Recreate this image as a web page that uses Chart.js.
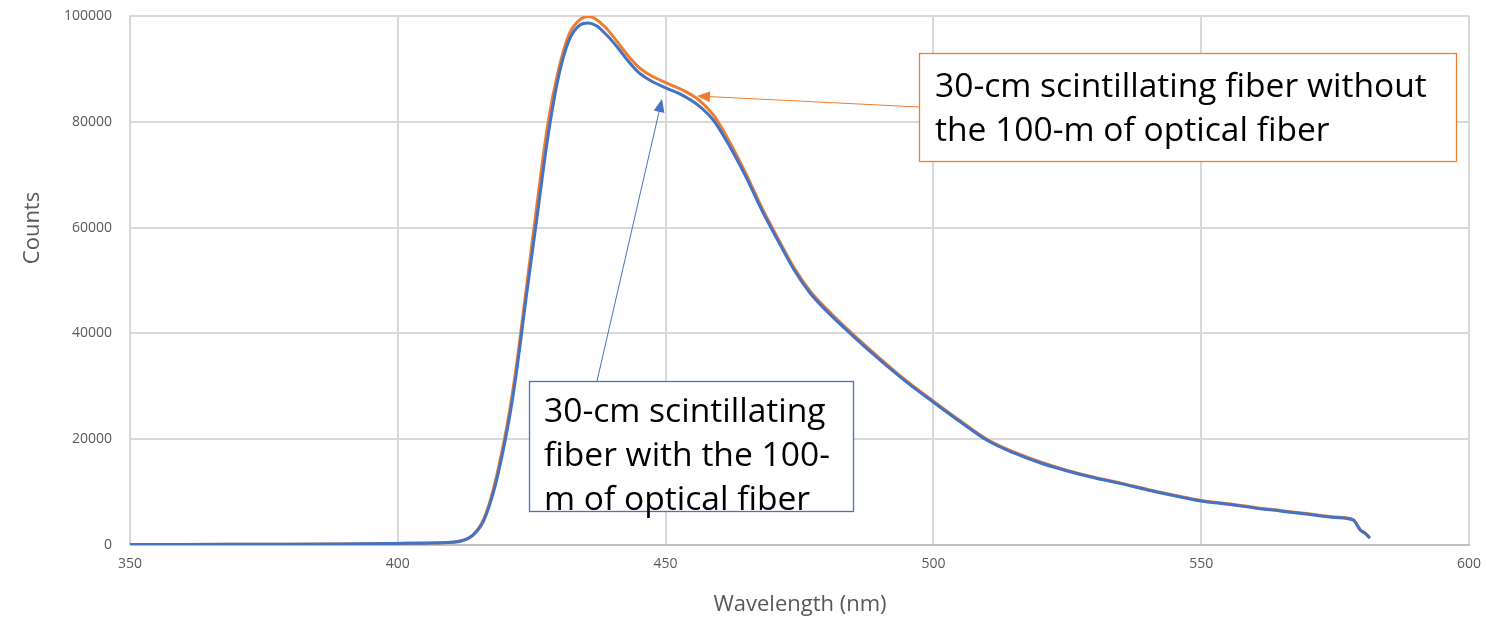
<!DOCTYPE html>
<html>
<head>
<meta charset="utf-8">
<script src="https://cdn.jsdelivr.net/npm/chart.js@4"></script>
<style>
  html, body { margin: 0; padding: 0; background: #fff; }
  #wrap { width: 1486px; height: 621px; }
</style>
</head>
<body>
<div id="wrap"><canvas id="spectrum"></canvas></div>
<script>
// wavelength grid (nm)
const wavelength = [350, 360, 370, 380, 390, 400, 405, 410, 412, 414, 416, 418, 420, 421, 422, 424, 426, 428, 430, 432, 434, 435.5, 437, 439, 441, 443, 445, 447, 450, 453, 456, 459, 462, 465, 468, 471, 474, 477, 480, 485, 490, 495, 500, 505, 510, 515, 520, 525, 530, 535, 540, 545, 550, 555, 560, 565, 570, 575, 578.4, 579.7, 580.6, 581.5];

// 30-cm scintillating fiber without the 100-m optical fiber
const countsWithout = [100, 110, 130, 160, 210, 300, 360, 520, 850, 1900, 4800, 11200, 20500, 26200, 32800, 48500, 64500, 79500, 89800, 96600, 99300, 99900, 99400, 97600, 95100, 92500, 90300, 88900, 87400, 86100, 84300, 81200, 76100, 70200, 63700, 57900, 52400, 48000, 44700, 39800, 35300, 31000, 27200, 23500, 20000, 17600, 15700, 14100, 12800, 11700, 10500, 9400, 8400, 7800, 7100, 6500, 5900, 5300, 4800, 2900, 2300, 1400];

// 30-cm scintillating fiber with the 100-m optical fiber
const countsWith = [100, 110, 130, 160, 210, 300, 350, 500, 800, 1800, 4500, 10500, 19500, 25000, 31500, 47000, 62000, 77000, 88500, 95500, 98300, 98700, 98200, 96400, 94100, 91500, 89300, 87900, 86400, 85100, 83200, 80200, 75300, 69600, 63200, 57500, 52000, 47600, 44300, 39500, 35000, 30800, 27000, 23300, 19800, 17400, 15500, 14000, 12700, 11600, 10400, 9300, 8300, 7700, 7000, 6400, 5800, 5200, 4700, 2800, 2200, 1300];

const xTicks = [350, 400, 450, 500, 550, 600];
const yTicks = [0, 20000, 40000, 60000, 80000, 100000];

const orange = '#ED7D31';
const blue = '#4472C4';
const labelGrey = '#595959';
const textFont = '"Open Sans", "Liberation Sans", sans-serif';

function pts(ys) {
  return wavelength.map((x, i) => ({ x: x, y: ys[i] }));
}

// fit a font size so a line of text spans a given width
function fitFont(ctx, text, width) {
  ctx.font = '30px ' + textFont;
  const w = ctx.measureText(text).width;
  return 30 * width / w;
}

function arrow(ctx, x1, y1, x2, y2, color) {
  const ang = Math.atan2(y2 - y1, x2 - x1);
  const len = 13, half = 5.5;
  ctx.strokeStyle = color;
  ctx.fillStyle = color;
  ctx.lineWidth = 1;
  ctx.beginPath();
  ctx.moveTo(x1, y1);
  ctx.lineTo(x2 - Math.cos(ang) * len * 0.8, y2 - Math.sin(ang) * len * 0.8);
  ctx.stroke();
  ctx.beginPath();
  ctx.moveTo(x2, y2);
  ctx.lineTo(x2 - Math.cos(ang) * len + Math.sin(ang) * half, y2 - Math.sin(ang) * len - Math.cos(ang) * half);
  ctx.lineTo(x2 - Math.cos(ang) * len - Math.sin(ang) * half, y2 - Math.sin(ang) * len + Math.cos(ang) * half);
  ctx.closePath();
  ctx.fill();
}

function textBox(ctx, box, lines, color, fitWidth) {
  ctx.save();
  ctx.fillStyle = '#fff';
  ctx.fillRect(box.x, box.y, box.w, box.h);
  ctx.strokeStyle = color;
  ctx.lineWidth = 1.3;
  ctx.strokeRect(box.x + 0.5, box.y + 0.5, box.w, box.h);
  const size = fitFont(ctx, lines[0], fitWidth);
  ctx.font = size.toFixed(1) + 'px ' + textFont;
  ctx.fillStyle = '#000';
  ctx.textBaseline = 'alphabetic';
  ctx.textAlign = 'left';
  lines.forEach((t, i) => ctx.fillText(t, box.tx, box.ty + i * box.lh));
  ctx.restore();
}

const notes = {
  id: 'notes',
  afterDraw(chart) {
    const ctx = chart.ctx;
    ctx.save();
    // axis titles
    ctx.fillStyle = labelGrey;
    ctx.font = '22px ' + textFont;
    ctx.textAlign = 'center';
    ctx.textBaseline = 'middle';
    ctx.fillText('Wavelength (nm)', 800, 605);
    ctx.translate(33, 228);
    ctx.rotate(-Math.PI / 2);
    ctx.fillText('Counts', 0, 0);
    ctx.restore();

    ctx.save();
    arrow(ctx, 919, 107, 697, 96, orange);
    arrow(ctx, 597, 381, 662, 99, blue);
    ctx.restore();

    textBox(ctx, { x: 919, y: 53, w: 537, h: 108, tx: 935, ty: 97, lh: 44 },
      ['30-cm scintillating fiber without', 'the 100-m of optical fiber'], orange, 492);
    textBox(ctx, { x: 529, y: 381, w: 324, h: 130, tx: 544, ty: 422, lh: 44 },
      ['30-cm scintillating', 'fiber with the 100-', 'm of optical fiber'], blue, 282);
  }
};

new Chart(document.getElementById('spectrum'), {
  type: 'line',
  data: {
    datasets: [
      {
        label: 'with 100-m optical fiber',
        data: pts(countsWith),
        borderColor: blue,
        borderWidth: 3,
        pointRadius: 0,
        cubicInterpolationMode: 'monotone',
        fill: false
      },
      {
        label: 'without 100-m optical fiber',
        data: pts(countsWithout),
        borderColor: orange,
        borderWidth: 3,
        pointRadius: 0,
        cubicInterpolationMode: 'monotone',
        fill: false
      }
    ]
  },
  options: {
    responsive: true,
    maintainAspectRatio: false,
    animation: false,
    layout: { padding: { top: 16, right: 17, left: 0, bottom: 0 } },
    plugins: { legend: { display: false }, tooltip: { enabled: false } },
    scales: {
      x: {
        type: 'linear',
        min: 350,
        max: 600,
        afterBuildTicks: s => { s.ticks = xTicks.map(v => ({ value: v })); },
        afterFit: s => { s.height = 76; s.paddingLeft = 0; s.paddingRight = 0; },
        grid: { color: '#d9d9d9', lineWidth: 2, drawTicks: false },
        border: { color: '#bfbfbf', width: 2 },
        ticks: { color: labelGrey, font: { size: 14, family: textFont }, padding: 11, maxRotation: 0 }
      },
      y: {
        min: 0,
        max: 100000,
        afterBuildTicks: s => { s.ticks = yTicks.map(v => ({ value: v })); },
        afterFit: s => { s.width = 130; s.paddingTop = 0; s.paddingBottom = 0; },
        grid: { color: '#d9d9d9', lineWidth: 2, drawTicks: false },
        border: { color: '#d9d9d9', width: 2 },
        ticks: { color: labelGrey, font: { size: 14, family: textFont }, padding: 18, callback: v => String(v) }
      }
    }
  },
  plugins: [notes]
});
</script>
</body>
</html>
